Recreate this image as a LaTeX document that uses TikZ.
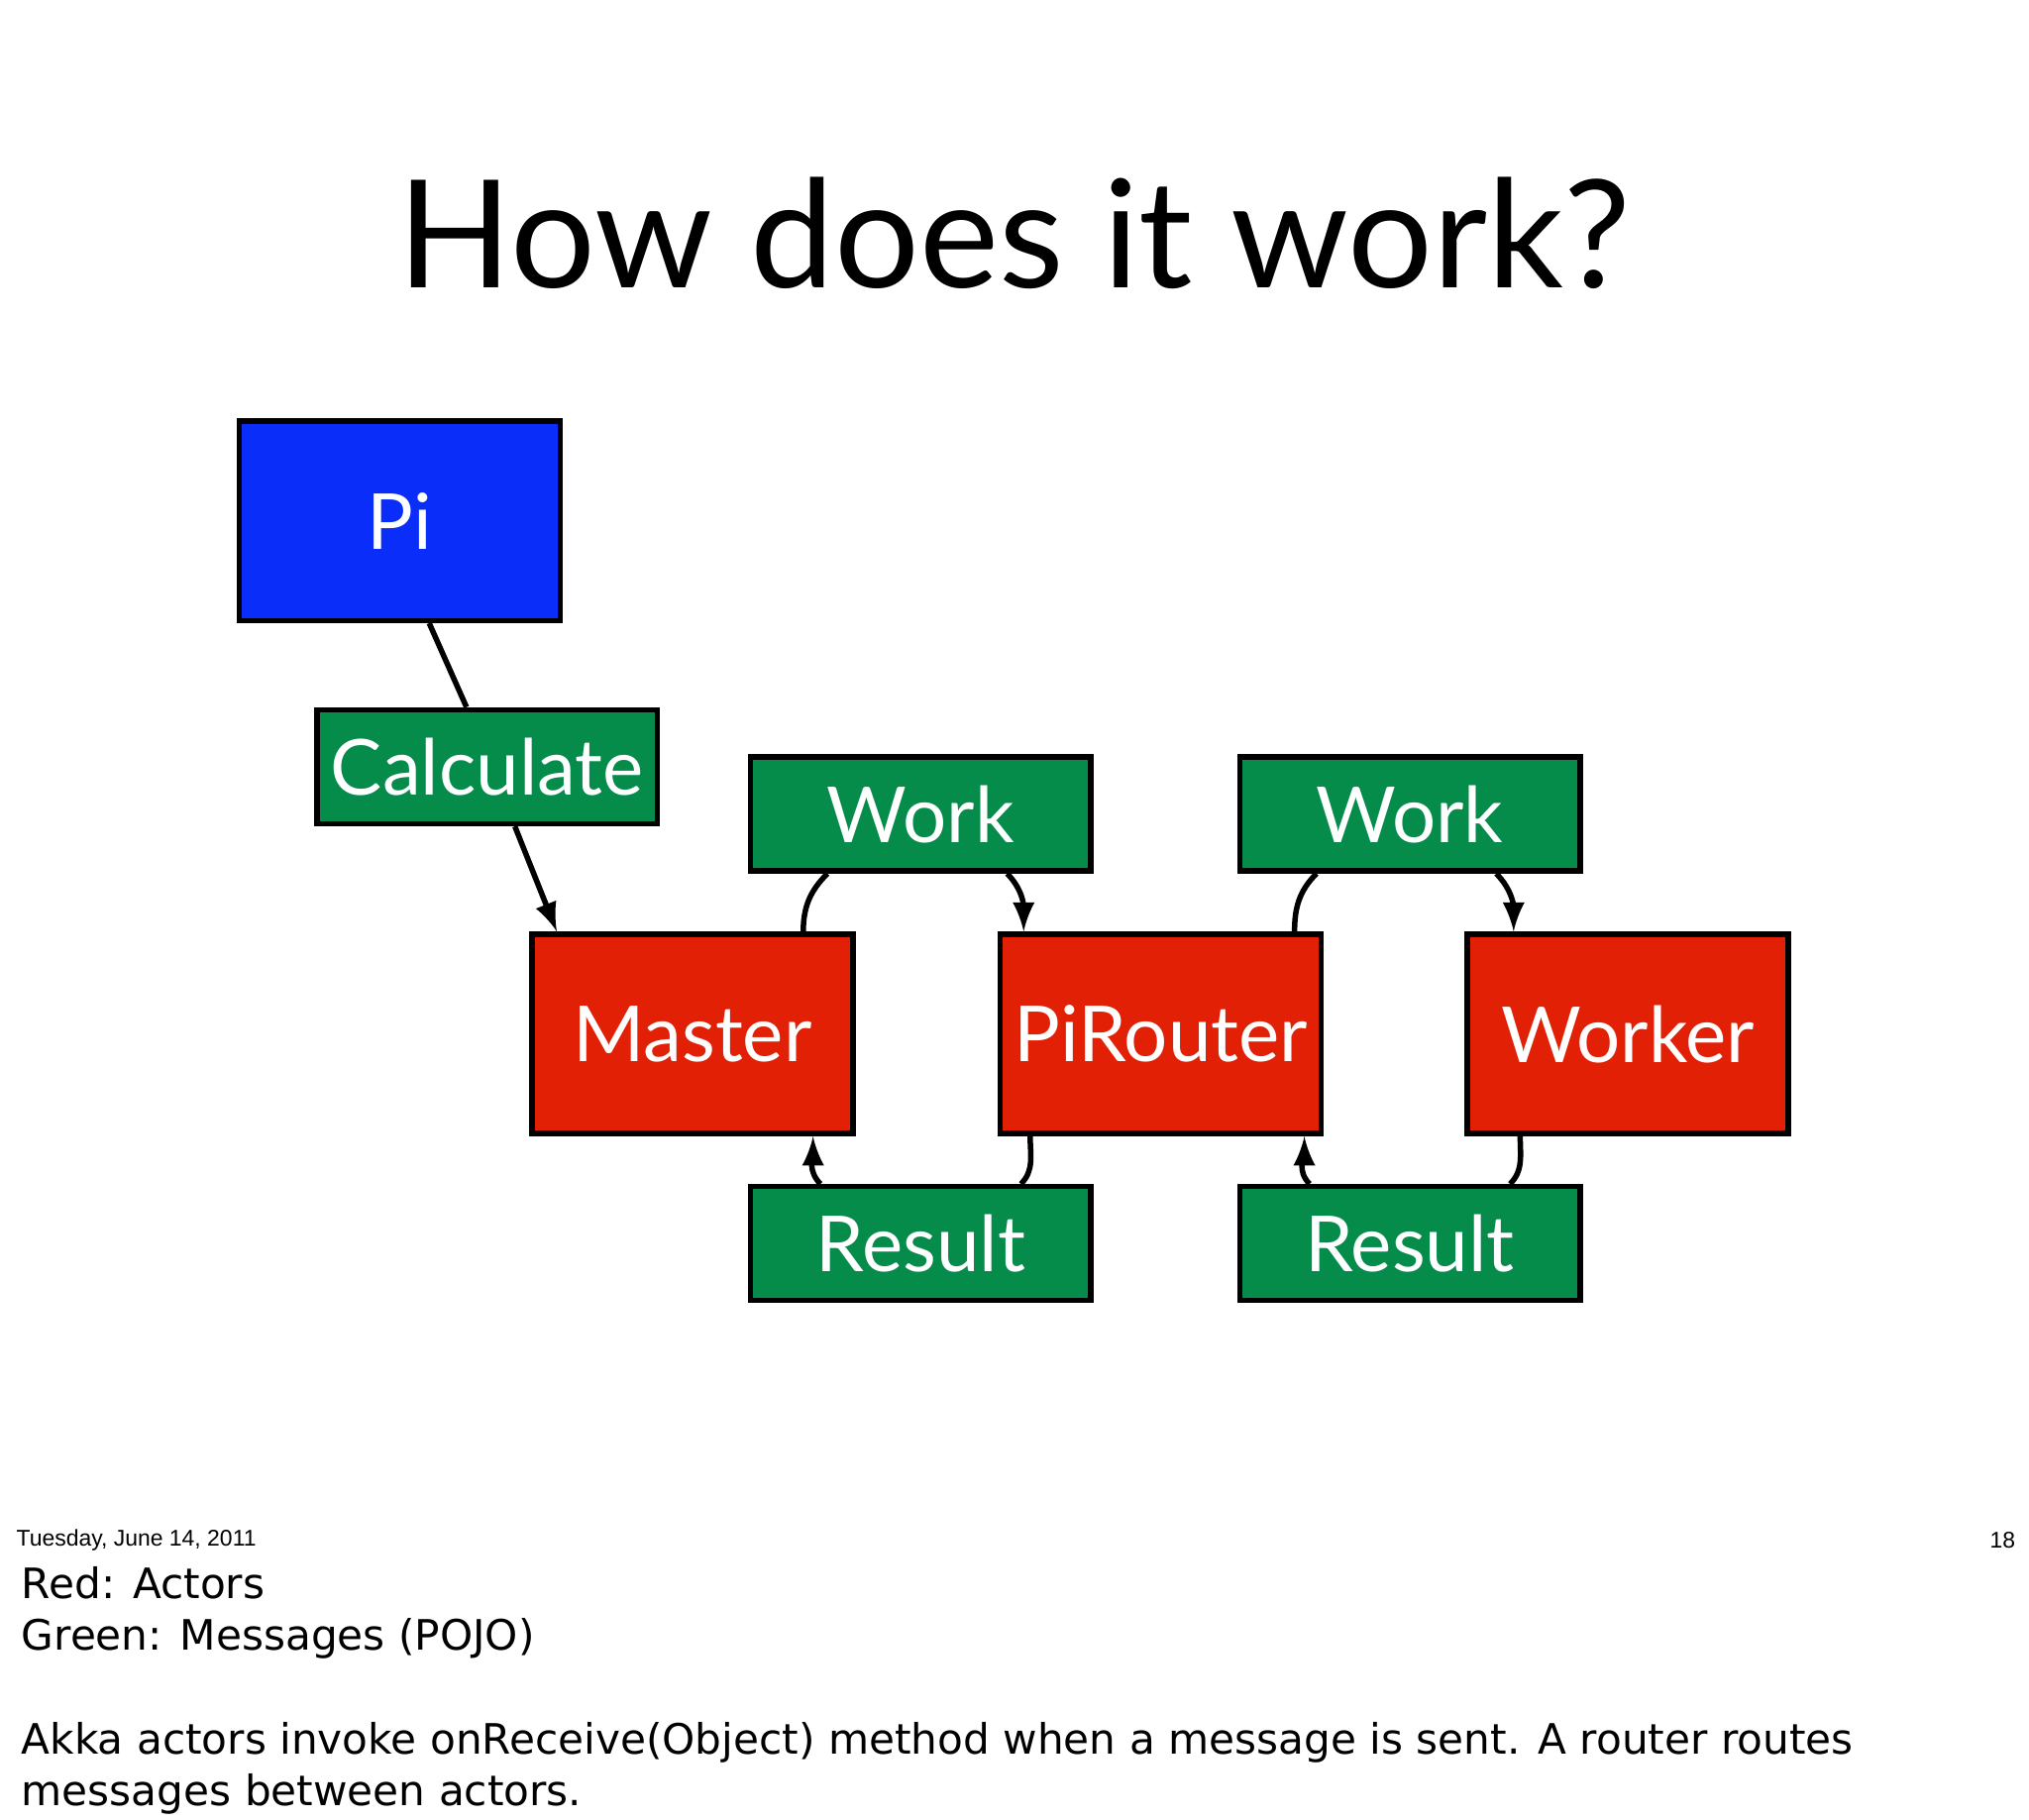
\documentclass[tikz,border=0pt]{standalone}
\usepackage{fontspec}
\setmainfont{Lato}
\newfontfamily\footfont{Liberation Sans}
\newfontfamily\notefont{DejaVu Sans}
\usetikzlibrary{positioning,calc}
\definecolor{piblue}{RGB}{10,45,250}
\definecolor{actred}{RGB}{225,32,5}
\definecolor{msggreen}{RGB}{5,140,75}

\begin{document}
\begin{tikzpicture}[
    actor/.style={draw, line width=1.2pt, fill=actred, text=white, inner sep=0pt, minimum width=2.48cm, minimum height=1.54cm, font=\fontsize{17}{20}\selectfont},
    msg/.style={draw, line width=1.2pt, fill=msggreen, text=white, inner sep=0pt, minimum width=2.63cm, minimum height=0.88cm, font=\fontsize{17}{20}\selectfont},
    link/.style={draw, line width=1.2pt},
    >=latex
]
\useasboundingbox (0,0) rectangle (15.68,-14.06);

% Title
\node[font=\fontsize{33}{40}\selectfont] (title) at (7.84,-1.8) {How does it work?};

% Actors
\node[actor, fill=piblue] (pi) at (3.09,-4.025) {Pi};
\node[actor] (master) at (5.35,-7.99) {Master};
\node[actor] (router) at (8.97,-7.99) {PiRouter};
\node[actor] (worker) at (12.58,-7.99) {Worker};

% Messages
\node[msg] (calc) at (3.765,-5.925) {Calculate};
\node[msg] (work1) at (7.115,-6.29) {Work};
\node[msg] (work2) at (10.895,-6.29) {Work};
\node[msg] (res1) at (7.115,-9.61) {Result};
\node[msg] (res2) at (10.895,-9.61) {Result};

% Connectors
\draw[link] ($(pi.south west)!0.59!(pi.south east)$) -- ($(calc.north west)!0.44!(calc.north east)$);
\draw[link, ->] ($(calc.south west)!0.58!(calc.south east)$) -- ($(master.north west)!0.085!(master.north east)$);

\draw[link] ($(master.north west)!0.84!(master.north east)$) to[out=90, in=-135] ($(work1.south west)!0.23!(work1.south east)$);
\draw[link, ->] ($(work1.south west)!0.75!(work1.south east)$) to[out=-45, in=90] ($(router.north west)!0.08!(router.north east)$);
\draw[link] ($(router.north west)!0.91!(router.north east)$) to[out=90, in=-135] ($(work2.south west)!0.23!(work2.south east)$);
\draw[link, ->] ($(work2.south west)!0.75!(work2.south east)$) to[out=-45, in=90] ($(worker.north west)!0.15!(worker.north east)$);

\draw[link] ($(router.south west)!0.1!(router.south east)$) to[out=-90, in=45] ($(res1.north west)!0.79!(res1.north east)$);
\draw[link, ->] ($(res1.north west)!0.21!(res1.north east)$) to[out=135, in=-90] ($(master.south west)!0.87!(master.south east)$);
\draw[link] ($(worker.south west)!0.17!(worker.south east)$) to[out=-90, in=45] ($(res2.north west)!0.79!(res2.north east)$);
\draw[link, ->] ($(res2.north west)!0.21!(res2.north east)$) to[out=135, in=-90] ($(router.south west)!0.94!(router.south east)$);

% Footer and notes
\node[anchor=west, inner sep=0pt, font=\footfont\fontsize{5}{6}\selectfont] (date) at (0.12,-11.9) {Tuesday, June 14, 2011};
\node[anchor=east, inner sep=0pt, font=\footfont\fontsize{5}{6}\selectfont] (page) at (15.58,-11.9) {18};
\node[anchor=north west, align=left, inner sep=0pt, font=\notefont\fontsize{9.2}{11.4}\selectfont] (notes) at (0.16,-12.1)
  {Red: Actors\\Green: Messages (POJO)\\[11.4pt]Akka actors invoke onReceive(Object) method when a message is sent. A router routes\\messages between actors.};
\end{tikzpicture}
\end{document}
